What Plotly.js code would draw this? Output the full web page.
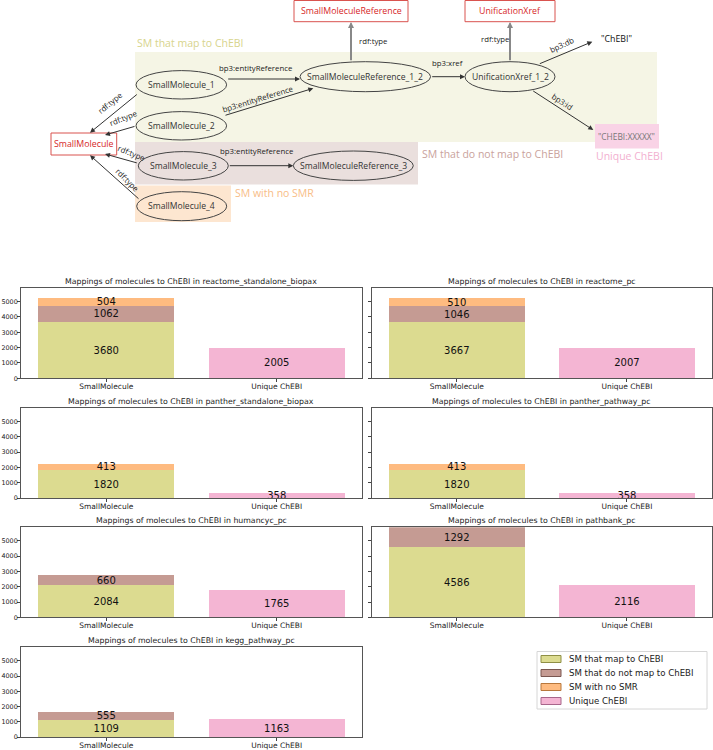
<!DOCTYPE html>
<html><head><meta charset="utf-8">
<script src="https://cdn.plot.ly/plotly-3.0.1.min.js"></script>
<style>html,body{margin:0;padding:0;background:#fff}#chart{width:713px;height:750px}</style>
</head><body><div id="chart"></div>
<script>
// ---------------- DATA ----------------
const datasets = ['reactome_standalone_biopax','reactome_pc','panther_standalone_biopax','panther_pathway_pc','humancyc_pc','pathbank_pc','kegg_pathway_pc'];
const categories = ['SmallMolecule','Unique ChEBI'];
const seriesNames = ['SM that map to ChEBI','SM that do not map to ChEBI','SM with no SMR','Unique ChEBI'];
const smMapped    = [3680, 3667, 1820, 1820, 2084, 4586, 1109];
const smNotMapped = [1062, 1046,    0,    0,  660, 1292,  555];
const smNoSMR     = [ 504,  510,  413,  413,    0,    0,    0];
const uniqueChEBI = [2005, 2007,  358,  358, 1765, 2116, 1163];
const yTickVals   = [0, 1000, 2000, 3000, 4000, 5000];

// ---------------- STYLE / GEOMETRY ----------------
const W = 713, H = 750;
const X = px => px / W;
const Y = py => 1 - py / H;
const colors = ['#dcdb90', '#c59b93', '#febb80', '#f4b5d3'];
const legendEdge = ['#8f8f45', '#7a5650', '#b8783c', '#a8668a'];
const cols = [[21, 362], [371.7, 712]];
const rows = [[288, 378.3], [407.7, 498], [527.3, 617.3], [647.3, 737]];
const yMax = 5890;
const chartFont = 'DejaVu Sans, sans-serif';
const diagFont = 'Open Sans, Noto Sans, sans-serif';

const traces = [];
const layout = {
  width: W, height: H,
  margin: {l: 0, r: 0, t: 0, b: 0},
  paper_bgcolor: '#fff', plot_bgcolor: '#fff',
  showlegend: false, barmode: 'stack',
  uniformtext: {mode: 'show', minsize: 10},
  shapes: [], annotations: []
};

const series = [smMapped, smNotMapped, smNoSMR];
datasets.forEach((name, i) => {
  const s = i === 0 ? '' : String(i + 1);
  const col = cols[i % 2], row = rows[Math.floor(i / 2)];
  series.forEach((vals, k) => {
    if (vals[i] > 0) {
      traces.push({
        type: 'bar', name: seriesNames[k], xaxis: 'x' + s, yaxis: 'y' + s,
        x: [categories[0]], y: [vals[i]], width: 0.8,
        marker: {color: colors[k], line: {width: 0}},
        text: [String(vals[i])], textposition: 'inside', insidetextanchor: 'middle',
        textangle: 0, constraintext: 'none',
        textfont: {family: chartFont, size: 10, color: '#111'},
        hoverinfo: 'skip', cliponaxis: false
      });
    }
  });
  traces.push({
    type: 'bar', name: seriesNames[3], xaxis: 'x' + s, yaxis: 'y' + s,
    x: [categories[1]], y: [uniqueChEBI[i]], width: 0.8,
    marker: {color: colors[3], line: {width: 0}},
    text: [String(uniqueChEBI[i])], textposition: 'inside', insidetextanchor: 'middle',
    textangle: 0, constraintext: 'none',
    textfont: {family: chartFont, size: 10, color: '#111'},
    hoverinfo: 'skip', cliponaxis: false
  });
  layout['xaxis' + s] = {
    domain: [X(col[0]), X(col[1])], anchor: 'y' + s,
    type: 'category', categoryorder: 'array', categoryarray: categories,
    range: [-0.5, 1.5], showgrid: false, zeroline: false,
    showline: true, mirror: true, linecolor: '#555', linewidth: 1,
    ticks: 'outside', ticklen: 3, tickwidth: 1, tickcolor: '#444', ticklabelstandoff: -2,
    tickfont: {family: chartFont, size: 7.5, color: '#222'}, fixedrange: true
  };
  layout['yaxis' + s] = {
    domain: [Y(row[1]), Y(row[0])], anchor: 'x' + s,
    range: [0, yMax], tickmode: 'array', tickvals: yTickVals,
    showticklabels: i % 2 === 0, showgrid: false, zeroline: false,
    showline: true, mirror: true, linecolor: '#555', linewidth: 1,
    ticks: 'outside', ticklen: 3, tickwidth: 1, tickcolor: '#444', ticklabelstandoff: -2,
    tickfont: {family: chartFont, size: 6.4, color: '#222'}, fixedrange: true
  };
  layout.annotations.push({
    xref: 'paper', yref: 'paper', x: X((col[0] + col[1]) / 2), y: Y(row[0] - 6.5),
    xanchor: 'center', yanchor: 'middle', showarrow: false,
    text: 'Mappings of molecules to ChEBI in ' + name,
    font: {family: chartFont, size: 7.8, color: '#222'}
  });
});

// ---------------- CUSTOM LEGEND ----------------
layout.shapes.push({type: 'rect', xref: 'paper', yref: 'paper', x0: X(537), x1: X(707), y0: Y(651.5), y1: Y(709),
  line: {color: '#d6d6d6', width: 1}, fillcolor: '#fff'});
seriesNames.forEach((nm, k) => {
  const cy = 659 + k * 14;
  layout.shapes.push({type: 'rect', xref: 'paper', yref: 'paper', x0: X(541), x1: X(561), y0: Y(cy + 3.5), y1: Y(cy - 3.5),
    line: {color: legendEdge[k], width: 1}, fillcolor: colors[k]});
  layout.annotations.push({xref: 'paper', yref: 'paper', x: X(567), y: Y(cy), xanchor: 'left', yanchor: 'middle',
    showarrow: false, text: nm, font: {family: chartFont, size: 8.6, color: '#222'}});
});

// ---------------- SCHEMATIC DIAGRAM ----------------
const groupRects = [
  {x0: 135, x1: 657, y0: 52, y1: 142, fill: '#f5f5e5'},
  {x0: 135, x1: 418, y0: 142, y1: 184.5, fill: '#eadfdd'},
  {x0: 135, x1: 231, y0: 185.5, y1: 222, fill: '#fde6d0'},
  {x0: 595, x1: 659, y0: 124, y1: 148.5, fill: '#f9d3e6'}
];
groupRects.forEach(r => layout.shapes.push({type: 'rect', xref: 'paper', yref: 'paper', layer: 'below',
  x0: X(r.x0), x1: X(r.x1), y0: Y(r.y1), y1: Y(r.y0), line: {width: 0}, fillcolor: r.fill}));

const groupLabels = [
  {t: 'SM that map to ChEBI', x: 135, y: 42.7, c: '#d7d48c'},
  {t: 'SM that do not map to ChEBI', x: 420, y: 153.5, c: '#c9a29c'},
  {t: 'SM with no SMR', x: 233, y: 192.7, c: '#f8bd86'},
  {t: 'Unique ChEBI', x: 594, y: 156, c: '#f2b0d0'}
];
groupLabels.forEach(g => layout.annotations.push({xref: 'paper', yref: 'paper', x: X(g.x), y: Y(g.y),
  xanchor: 'left', yanchor: 'middle', showarrow: false, text: g.t, font: {family: diagFont, size: 10.5, color: g.c}}));

const nodes = [
  {t: 'SmallMolecule_1', cx: 181.3, cy: 84.8, rx: 45.3, ry: 14.2},
  {t: 'SmallMolecule_2', cx: 181.3, cy: 125.8, rx: 45.3, ry: 14.2},
  {t: 'SmallMolecule_3', cx: 183.3, cy: 165.8, rx: 45, ry: 14.2},
  {t: 'SmallMolecule_4', cx: 181.7, cy: 206.2, rx: 45, ry: 14.5},
  {t: 'SmallMoleculeReference_1_2', cx: 365.3, cy: 76.7, rx: 65.3, ry: 15},
  {t: 'UnificationXref_1_2', cx: 510, cy: 76.7, rx: 45, ry: 15},
  {t: 'SmallMoleculeReference_3', cx: 353.3, cy: 165.7, rx: 60, ry: 14.7}
];
nodes.forEach(n => {
  layout.shapes.push({type: 'circle', xref: 'paper', yref: 'paper', x0: X(n.cx - n.rx), x1: X(n.cx + n.rx),
    y0: Y(n.cy + n.ry), y1: Y(n.cy - n.ry), line: {color: '#444', width: 1}, fillcolor: 'rgba(0,0,0,0)'});
  layout.annotations.push({xref: 'paper', yref: 'paper', x: X(n.cx), y: Y(n.cy), xanchor: 'center', yanchor: 'middle',
    showarrow: false, text: n.t, font: {family: diagFont, size: 8.6, color: '#333'}});
});

const classBoxes = [
  {t: 'SmallMolecule', x0: 51, x1: 116.7, y0: 133, y1: 155},
  {t: 'SmallMoleculeReference', x0: 294, x1: 408, y0: 0.5, y1: 21.7},
  {t: 'UnificationXref', x0: 465, x1: 555, y0: 0.5, y1: 21.7}
];
classBoxes.forEach(b => {
  layout.shapes.push({type: 'rect', xref: 'paper', yref: 'paper', x0: X(b.x0), x1: X(b.x1), y0: Y(b.y1), y1: Y(b.y0),
    line: {color: '#d9534f', width: 1}, fillcolor: '#fff'});
  layout.annotations.push({xref: 'paper', yref: 'paper', x: X((b.x0 + b.x1) / 2), y: Y((b.y0 + b.y1) / 2),
    xanchor: 'center', yanchor: 'middle', showarrow: false, text: b.t, font: {family: diagFont, size: 8.8, color: '#d62728'}});
});

const edges = [
  {tx: 226.7, ty: 79, hx: 300, hy: 79},
  {tx: 224, ty: 115.7, hx: 313.3, hy: 88.3},
  {tx: 228.3, ty: 165.7, hx: 293.3, hy: 165.7},
  {tx: 351, ty: 61.7, hx: 351, hy: 22, c: '#888', w: 2, s: 0.6},
  {tx: 510, ty: 61.7, hx: 510, hy: 22, c: '#888', w: 2, s: 0.6},
  {tx: 430.7, ty: 76.7, hx: 465, hy: 76.7},
  {tx: 538.3, ty: 64.3, hx: 592.3, hy: 41.7},
  {tx: 531.7, ty: 90, hx: 593.3, hy: 130},
  {tx: 138.3, ty: 93.3, hx: 90, hy: 132.7},
  {tx: 136, ty: 126, hx: 105, hy: 135},
  {tx: 138.3, ty: 163.3, hx: 105, hy: 154},
  {tx: 140, ty: 200, hx: 90, hy: 155.3}
];
edges.forEach(e => layout.annotations.push({xref: 'paper', yref: 'paper', x: X(e.hx), y: Y(e.hy), text: '',
  showarrow: true, arrowhead: 2, arrowsize: e.s || 1, arrowwidth: e.w || 1, arrowcolor: e.c || '#333',
  ax: e.tx - e.hx, ay: e.ty - e.hy, standoff: 0, startstandoff: 0}));

const edgeLabels = [
  {t: 'bp3:entityReference', x: 255.5, y: 68.3, a: 0},
  {t: 'bp3:entityReference', x: 257.7, y: 99.3, a: -17},
  {t: 'bp3:entityReference', x: 256.7, y: 151, a: 0},
  {t: 'rdf:type', x: 372.7, y: 41, a: 0},
  {t: 'rdf:type', x: 494.5, y: 39.3, a: 0},
  {t: 'bp3:xref', x: 447.3, y: 63.3, a: 0},
  {t: 'bp3:db', x: 561.7, y: 45, a: -25},
  {t: 'bp3:id', x: 562.7, y: 101.7, a: 33},
  {t: 'rdf:type', x: 110, y: 103.3, a: -40},
  {t: 'rdf:type', x: 123.3, y: 118.3, a: -22},
  {t: 'rdf:type', x: 131, y: 153.3, a: 22},
  {t: 'rdf:type', x: 127.3, y: 180, a: 45}
];
edgeLabels.forEach(l => layout.annotations.push({xref: 'paper', yref: 'paper', x: X(l.x), y: Y(l.y),
  xanchor: 'center', yanchor: 'middle', showarrow: false, text: l.t, textangle: l.a,
  font: {family: diagFont, size: 7.8, color: '#222'}}));

layout.annotations.push({xref: 'paper', yref: 'paper', x: X(616.5), y: Y(39.3), xanchor: 'center', yanchor: 'middle',
  showarrow: false, text: '"ChEBI"', font: {family: diagFont, size: 8.8, color: '#111'}});
layout.annotations.push({xref: 'paper', yref: 'paper', x: X(626.7), y: Y(137), xanchor: 'center', yanchor: 'middle',
  showarrow: false, text: '"CHEBI:XXXXX"', font: {family: diagFont, size: 8.4, color: '#777'}});

Plotly.newPlot('chart', traces, layout, {staticPlot: true, displayModeBar: false});
</script>
</body></html>
